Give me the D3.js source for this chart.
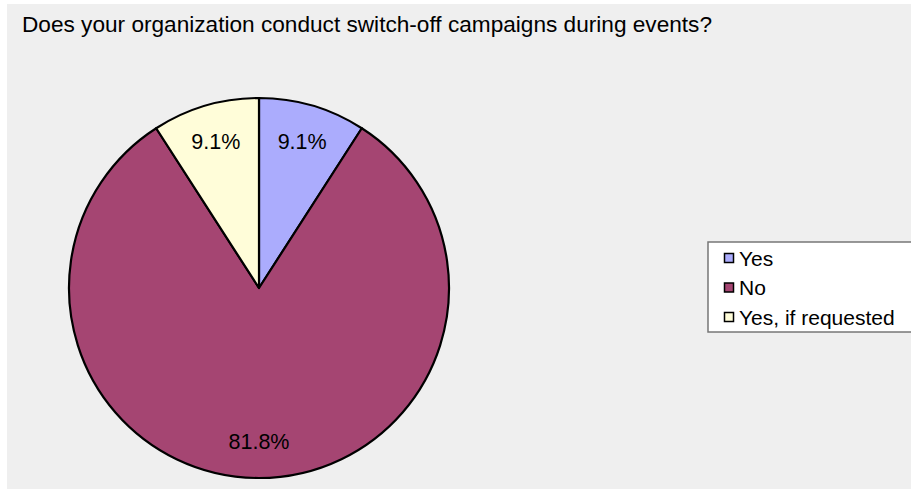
<!DOCTYPE html>
<html><head><meta charset="utf-8">
<script src="https://cdn.jsdelivr.net/npm/d3@7"></script>
<style>html,body{margin:0;padding:0;background:#fff;}svg{display:block;}</style>
</head><body>
<svg id="chart" width="911" height="491"></svg>
<script>
const categories = ["Yes", "No", "Yes, if requested"];
const values = [9.1, 81.8, 9.1];
const labels = ["9.1%", "81.8%", "9.1%"];
const colors = ["#abacfd", "#a54572", "#fffdd9"];
const title = "Does your organization conduct switch-off campaigns during events?";

const svg = d3.select("#chart");
const W = 911, H = 491;
const font = "'Liberation Sans', Arial, Helvetica, sans-serif";

svg.append("rect").attr("x", 7).attr("y", 4).attr("width", W - 7).attr("height", 485).attr("fill", "#efefef");

svg.append("text").attr("x", 22).attr("y", 32).attr("font-family", font).attr("font-size", 22)
  .attr("textLength", 690).attr("lengthAdjust", "spacingAndGlyphs")
  .attr("fill", "#000").text(title);

const cx = 259, cy = 288, R = 190;
const data = categories.map((c, i) => ({ cat: c, value: values[i], label: labels[i], color: colors[i] }));
const pie = d3.pie().value(d => d.value).sort(null);
const arc = d3.arc().innerRadius(0).outerRadius(R);
const labelArc = d3.arc().innerRadius(153).outerRadius(153);

const g = svg.append("g").attr("transform", `translate(${cx},${cy})`);
const arcs = pie(data);
g.selectAll("path").data(arcs).join("path")
  .attr("d", arc).attr("fill", d => d.data.color)
  .attr("stroke", "#000").attr("stroke-width", 2.2).attr("stroke-linejoin", "round");

g.selectAll("text").data(arcs).join("text")
  .attr("transform", d => `translate(${labelArc.centroid(d)})`)
  .attr("text-anchor", "middle").attr("dy", "0.36em")
  .attr("font-family", font).attr("font-size", 21.5).attr("fill", "#000")
  .text(d => d.data.label);

// legend
const lg = svg.append("g");
lg.append("rect").attr("x", 708).attr("y", 242).attr("width", 220).attr("height", 90)
  .attr("fill", "#fff").attr("stroke", "#777").attr("stroke-width", 1.5);
const ly = d3.scalePoint().domain(categories).range([258, 317]);
categories.forEach((c, i) => {
  lg.append("rect").attr("x", 724.5).attr("y", ly(c) - 4.5).attr("width", 9).attr("height", 9)
    .attr("fill", colors[i]).attr("stroke", "#000").attr("stroke-width", 1.5);
  lg.append("text").attr("x", 739).attr("y", ly(c)).attr("dy", "0.36em")
    .attr("font-family", font).attr("font-size", 21).attr("fill", "#000").text(c);
});
</script>
</body></html>
